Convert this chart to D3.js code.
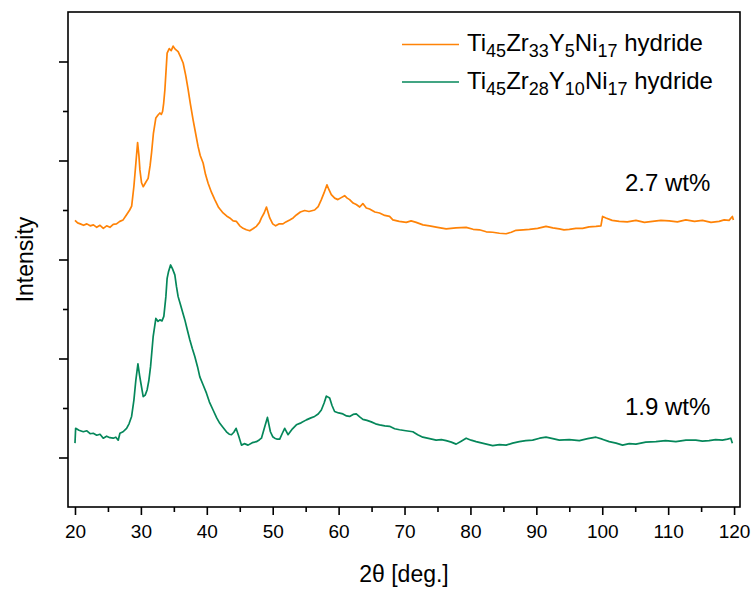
<!DOCTYPE html>
<html>
<head>
<meta charset="utf-8">
<script src="https://cdn.jsdelivr.net/npm/d3@7"></script>
<style>
    body { margin: 0; background: #fff; }
    text { font-family: Arial, "Liberation Sans", sans-serif; fill: #000; }
    .axis path, .axis line { stroke: #000; stroke-width: 1.6; }
    .frame { fill: none; stroke: #000; stroke-width: 1.6; }
    .trace { fill: none; stroke-width: 1.7; stroke-linejoin: round; }
</style>
</head>
<body>
<div id="xrd-chart"></div>
<script>
// XRD pattern of Ti45Zr33Y5Ni17 hydride (upper trace)
const twoThetaOrange = [20.0, 20.4, 20.8, 21.3, 21.8, 22.3, 22.8, 23.3, 23.8, 24.3, 24.8, 25.3, 25.8, 26.3, 26.8, 27.3, 27.8, 28.3, 28.6, 28.94,
    29.24, 29.5, 29.7, 29.85, 30.1, 30.35, 30.7, 31.1, 31.4, 31.62, 31.9, 32.27, 32.6, 32.88, 33.1, 33.29, 33.45, 33.64, 33.98, 34.3,
    34.6, 34.89, 35.2, 35.65, 36.0, 36.41, 36.8, 37.17, 37.5, 37.92, 38.3, 38.68, 39.0, 39.44, 39.8, 40.2, 40.7, 41.21, 41.8, 42.47,
    43.0, 43.48, 44.0, 44.5, 45.0, 45.5, 46.0, 46.52, 47.0, 47.53, 48.0, 48.29, 48.7, 49.05, 49.3, 49.55, 50.0, 50.45, 51.0, 51.56,
    52.0, 52.58, 53.1, 53.59, 54.2, 54.85, 55.5, 56.36, 56.9, 57.38, 57.8, 58.23, 58.5, 58.89, 59.4, 59.89, 60.4, 60.91, 61.3, 61.67,
    62.2, 62.68, 63.2, 63.68, 64.2, 64.7, 65.5, 66.21, 67.0, 67.73, 68.23, 69.2, 70.26, 71.0, 71.77, 72.8, 73.79, 75.0, 76.32, 77.8,
    79.35, 80.4, 81.36, 82.4, 83.38, 84.4, 85.41, 86.2, 86.92, 88.0, 88.94, 90.2, 91.47, 92.5, 93.48, 94.2, 95.0, 96.0, 97.02, 98.0,
    99.05, 99.8, 100.05, 100.56, 101.5, 102.58, 103.8, 105.11, 106.4, 107.62, 108.9, 110.15, 111.4, 112.68, 114.0, 115.2, 116.5, 117.73, 118.5, 119.24,
    119.74, 119.9];
const intensityOrange = [579, 574, 572, 569, 572, 568, 570, 565, 569, 563, 568, 565, 571, 572, 577, 580, 590, 600, 608, 648,
    695, 736, 710, 681, 655, 647, 655, 664, 690, 716, 755, 786, 792, 796, 793, 799, 815, 843, 917, 926,
    922, 931, 925, 920, 910, 897, 872, 843, 815, 782, 755, 728, 710, 695, 672, 654, 636, 621, 605, 594,
    588, 584, 578, 577, 568, 563, 560, 558, 562, 567, 575, 584, 594, 606, 595, 584, 572, 568, 572, 572,
    576, 580, 584, 590, 596, 599, 597, 600, 607, 621, 635, 651, 642, 631, 624, 621, 625, 629, 624, 621,
    614, 611, 606, 613, 604, 602, 596, 594, 589, 587, 580, 577, 575, 578, 575, 570, 568, 565, 562, 564,
    565, 561, 560, 556, 555, 553, 552, 555, 559, 560, 561, 563, 567, 564, 562, 560, 561, 563, 563, 566,
    567, 568, 587, 584, 579, 577, 576, 579, 575, 577, 579, 578, 576, 580, 577, 579, 575, 577, 580, 579,
    587, 580];

// XRD pattern of Ti45Zr28Y10Ni17 hydride (lower trace)
const twoThetaGreen = [20.0, 20.1, 20.6, 21.26, 21.8, 22.3, 22.77, 23.3, 23.8, 24.29, 24.8, 25.3, 25.8, 26.2, 26.56, 26.82, 27.3, 27.83, 28.2, 28.59,
    28.94, 29.24, 29.55, 29.8, 30.0, 30.35, 30.65, 30.95, 31.2, 31.47, 31.86, 32.27, 32.6, 32.88, 33.2, 33.48, 33.79, 33.98, 34.2, 34.5,
    34.8, 35.15, 35.4, 35.65, 36.02, 36.3, 36.67, 37.0, 37.42, 37.8, 38.18, 38.6, 38.94, 39.4, 39.95, 40.4, 40.95, 41.5, 41.97, 42.5,
    42.98, 43.4, 43.74, 44.1, 44.44, 44.8, 45.26, 45.7, 46.26, 46.9, 47.53, 48.0, 48.29, 48.79, 49.2, 49.45, 49.65, 50.0, 50.3, 50.7,
    51.06, 51.5, 51.82, 52.32, 53.0, 53.59, 54.3, 55.11, 55.8, 56.36, 56.9, 57.38, 57.8, 58.14, 58.64, 59.0, 59.39, 60.0, 60.65, 61.2,
    61.67, 62.2, 62.68, 63.2, 63.68, 64.3, 64.95, 65.6, 66.21, 67.0, 67.73, 68.5, 69.24, 70.2, 71.26, 72.0, 72.77, 73.8, 74.8, 75.6,
    76.32, 77.1, 77.83, 78.6, 79.35, 80.1, 80.86, 82.1, 83.38, 84.4, 85.41, 86.4, 87.42, 88.4, 89.44, 90.5, 91.47, 92.5, 93.48, 95.0,
    96.52, 97.8, 99.05, 100.0, 101.06, 102.1, 103.08, 104.1, 105.11, 106.6, 108.14, 109.6, 111.17, 112.7, 114.2, 115.2, 116.21, 117.2, 118.23, 119.0,
    119.5, 119.74];
const intensityGreen = [129, 159, 155, 152, 154, 148, 149, 145, 147, 139, 143, 140, 139, 141, 135, 149, 152, 159, 168, 183,
    216, 257, 289, 266, 250, 223, 226, 237, 255, 284, 344, 381, 375, 378, 376, 385, 425, 462, 476, 489,
    481, 469, 445, 425, 408, 395, 378, 360, 338, 320, 304, 283, 263, 248, 230, 212, 196, 180, 169, 160,
    152, 147, 146, 151, 159, 145, 125, 128, 125, 130, 132, 136, 139, 162, 181, 165, 152, 142, 139, 137,
    137, 150, 159, 146, 158, 166, 170, 176, 180, 183, 188, 196, 210, 224, 220, 205, 193, 190, 188, 184,
    183, 187, 188, 182, 177, 175, 172, 168, 166, 164, 163, 158, 156, 154, 152, 146, 141, 138, 135, 136,
    134, 131, 127, 133, 139, 135, 132, 128, 124, 126, 125, 129, 132, 134, 135, 139, 141, 138, 135, 136,
    134, 138, 141, 137, 132, 129, 125, 128, 127, 131, 132, 134, 132, 135, 135, 133, 134, 136, 135, 137,
    139, 129];

// Axis ticks
const xTicksMajor = [20, 30, 40, 50, 60, 70, 80, 90, 100, 110, 120];
const xTicksMinor = [25, 35, 45, 55, 65, 75, 85, 95, 105, 115];
const yTicksMajor = [100, 300, 500, 700, 900];
const yTicksMinor = [200, 400, 600, 800];

// Legend entries, split in [text, isSubscript] pieces
const legendOrange = [["Ti", false], ["45", true], ["Zr", false], ["33", true], ["Y", false], ["5", true], ["Ni", false], ["17", true], [" hydride", false]];
const legendGreen = [["Ti", false], ["45", true], ["Zr", false], ["28", true], ["Y", false], ["10", true], ["Ni", false], ["17", true], [" hydride", false]];
const capacityLabels = ["2.7 wt%", "1.9 wt%"];

const colorOrange = "#ff8307";
const colorGreen = "#05875a";

function drawChart() {
    const width = 752, height = 589;
    const margin = {top: 12, right: 12, bottom: 82, left: 68};
    const plotW = width - margin.left - margin.right;
    const plotH = height - margin.top - margin.bottom;

    const svg = d3.select("#xrd-chart").append("svg")
        .attr("width", width)
        .attr("height", height);

    const g = svg.append("g")
        .attr("transform", "translate(" + margin.left + "," + margin.top + ")");

    const x = d3.scaleLinear().domain([18.94, 120.9]).range([0, plotW]);
    const y = d3.scaleLinear().domain([0, 1000]).range([plotH, 0]);

    //Traces
    const line = d3.line()
        .x(d => x(d[0]))
        .y(d => y(d[1]));

    const series = [
        {color: colorOrange, pts: d3.zip(twoThetaOrange, intensityOrange)},
        {color: colorGreen, pts: d3.zip(twoThetaGreen, intensityGreen)}
    ];

    g.selectAll(".trace")
        .data(series)
        .enter()
        .append("path")
        .attr("class", "trace")
        .attr("stroke", d => d.color)
        .attr("d", d => line(d.pts));

    //Frame around plot
    g.append("rect")
        .attr("class", "frame")
        .attr("x", 0)
        .attr("y", 0)
        .attr("width", plotW)
        .attr("height", plotH);

    //Bottom axis, major ticks with labels and minor ticks
    g.append("g")
        .attr("class", "axis")
        .attr("transform", "translate(0," + plotH + ")")
        .call(d3.axisBottom(x).tickValues(xTicksMajor).tickSize(8).tickSizeOuter(0).tickPadding(10).tickFormat(d3.format("d")))
        .call(a => a.select(".domain").remove())
        .selectAll("text")
        .style("font-size", "19px");

    g.append("g")
        .attr("class", "axis")
        .attr("transform", "translate(0," + plotH + ")")
        .call(d3.axisBottom(x).tickValues(xTicksMinor).tickSize(5).tickFormat(""))
        .call(a => a.select(".domain").remove());

    //Left axis, ticks only
    g.append("g")
        .attr("class", "axis")
        .call(d3.axisLeft(y).tickValues(yTicksMajor).tickSize(9).tickFormat(""))
        .call(a => a.select(".domain").remove());

    g.append("g")
        .attr("class", "axis")
        .call(d3.axisLeft(y).tickValues(yTicksMinor).tickSize(5).tickFormat(""))
        .call(a => a.select(".domain").remove());

    //Axis titles
    g.append("text")
        .attr("x", plotW / 2)
        .attr("y", plotH + 75)
        .attr("text-anchor", "middle")
        .style("font-size", "23px")
        .text("2θ [deg.]");

    svg.append("text")
        .attr("transform", "translate(33," + (margin.top + plotH / 2) + ") rotate(-90)")
        .attr("text-anchor", "middle")
        .style("font-size", "23px")
        .text("Intensity");

    //Legend
    const legend = g.append("g").attr("transform", "translate(334,39)");
    [[legendOrange, colorOrange], [legendGreen, colorGreen]].forEach(function(entry, i) {
        const row = legend.append("g").attr("transform", "translate(0," + (i * 37.5) + ")");
        row.append("line")
            .attr("x1", 0).attr("x2", 57)
            .attr("y1", -6.5).attr("y2", -6.5)
            .attr("stroke", entry[1])
            .attr("stroke-width", 1.5);
        const t = row.append("text")
            .attr("x", 65)
            .attr("y", 0)
            .style("font-size", "24px");
        let shifted = false;
        entry[0].forEach(function(piece) {
            const dy = piece[1] === shifted ? 0 : (piece[1] ? 6 : -6);
            shifted = piece[1];
            t.append("tspan")
                .attr("dy", dy)
                .style("font-size", piece[1] ? "18px" : "24px")
                .text(piece[0]);
        });
    });

    //Hydrogen capacity labels next to each trace
    g.selectAll(".capacity")
        .data(capacityLabels)
        .enter()
        .append("text")
        .attr("class", "capacity")
        .attr("x", 557)
        .attr("y", (d, i) => i === 0 ? 179 : 403)
        .style("font-size", "24px")
        .text(d => d);
}

drawChart();
</script>
</body>
</html>
